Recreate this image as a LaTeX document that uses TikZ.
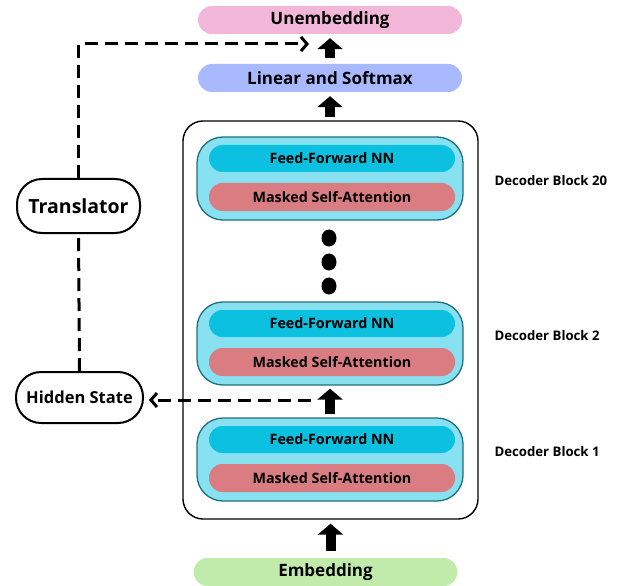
\documentclass[tikz,border=0pt]{standalone}
\usepackage{fontspec}
\setmainfont{Open Sans}
\usetikzlibrary{arrows.meta,positioning}

\definecolor{unembpink}{HTML}{F2B6D8}
\definecolor{linblue}{HTML}{A9B9FF}
\definecolor{embgreen}{HTML}{C1EBAB}
\definecolor{blockcyan}{HTML}{87E1F0}
\definecolor{blockedge}{HTML}{1F6F7F}
\definecolor{ffcyan}{HTML}{0CC1E0}
\definecolor{msared}{HTML}{DA7D82}

\begin{document}
\begin{tikzpicture}[x=1pt, y=-1pt,
    pill/.style={rounded corners=14pt, minimum width=264pt, minimum height=28pt,
      inner sep=0pt, font=\fontsize{17}{20}\selectfont\bfseries},
    decblock/.style={draw=blockedge, line width=1.3pt, fill=blockcyan, rounded corners=26pt,
      minimum width=266pt, minimum height=83pt, inner sep=0pt},
    layer/.style={rounded corners=13.5pt, minimum width=246pt, minimum height=27pt,
      inner sep=0pt, font=\fontsize{14.3}{17}\selectfont\bfseries},
    term/.style={draw, line width=2pt, rounded corners=25pt, inner sep=0pt},
    blockarrow/.style={line width=10pt, -{Triangle[length=11pt, width=25pt]}},
    dashline/.style={line width=3pt, dash pattern=on 13pt off 7pt},
    tip/.style={-{Straight Barb[length=6pt, width=14pt]}}
  ]
  \useasboundingbox (0,0) rectangle (617,585);

  % top stack
  \node[pill, fill=unembpink] (unemb) at (330,20) {Unembedding};
  \node[pill, fill=linblue] (lin) at (330,78) {Linear and Softmax};
  \node[pill, fill=embgreen] (emb) at (325.5,572) {Embedding};

  % decoder stack
  \node[draw, line width=1.4pt, rounded corners=20pt, minimum width=295pt,
    minimum height=398pt] (dec) at (330.5,320) {};
  \foreach \t/\n/\l in {137/20/181, 302/2/336, 418/1/452} {
    \node[decblock] (blk\n) at (330,\t+41.5) {};
    \node[layer, fill=ffcyan] (ff\n) at (332,\t+21.5) {Feed-Forward NN};
    \node[layer, fill=msared, minimum height=28pt] (msa\n) at (332,\t+60) {Masked Self-Attention};
    \node[anchor=west, font=\fontsize{13.2}{16}\selectfont\bfseries] (lbl\n) at (491,\l) {Decoder Block \n};
  }
  \foreach \y in {238,262,286}
    \fill (329,\y) ellipse (7.5pt and 8.5pt);

  % side nodes
  \node[term, minimum width=123pt, minimum height=54pt, font=\fontsize{19.5}{22}\selectfont\bfseries]
    (trans) at (78.5,206) {Translator};
  \node[term, minimum width=127pt, minimum height=51pt, font=\fontsize{16.5}{20}\selectfont\bfseries]
    (hs) at (79.5,397.5) {Hidden State};

  % arrows
  \draw[blockarrow, shorten <=6pt, shorten >=4pt] (lin) -- (unemb);
  \draw[blockarrow, shorten <=3pt, shorten >=4pt] (dec.north -| lin) -- (lin);
  \draw[blockarrow, shorten <=3pt, shorten >=3pt] (blk1) -- (blk2);
  \draw[blockarrow, shorten <=7pt, shorten >=4pt] (emb.north -| dec.south) -- (dec.south);

  \coordinate (hsfrom) at (311,400);
  \coordinate (outto) at (309,44);
  \draw[dashline, tip, shorten >=5pt] (hsfrom) -- (hs.east |- hsfrom);
  \draw[dashline] (hs.north) -- (trans.south);
  \draw[dashline, tip] (trans.north) |- (outto);
\end{tikzpicture}
\end{document}
